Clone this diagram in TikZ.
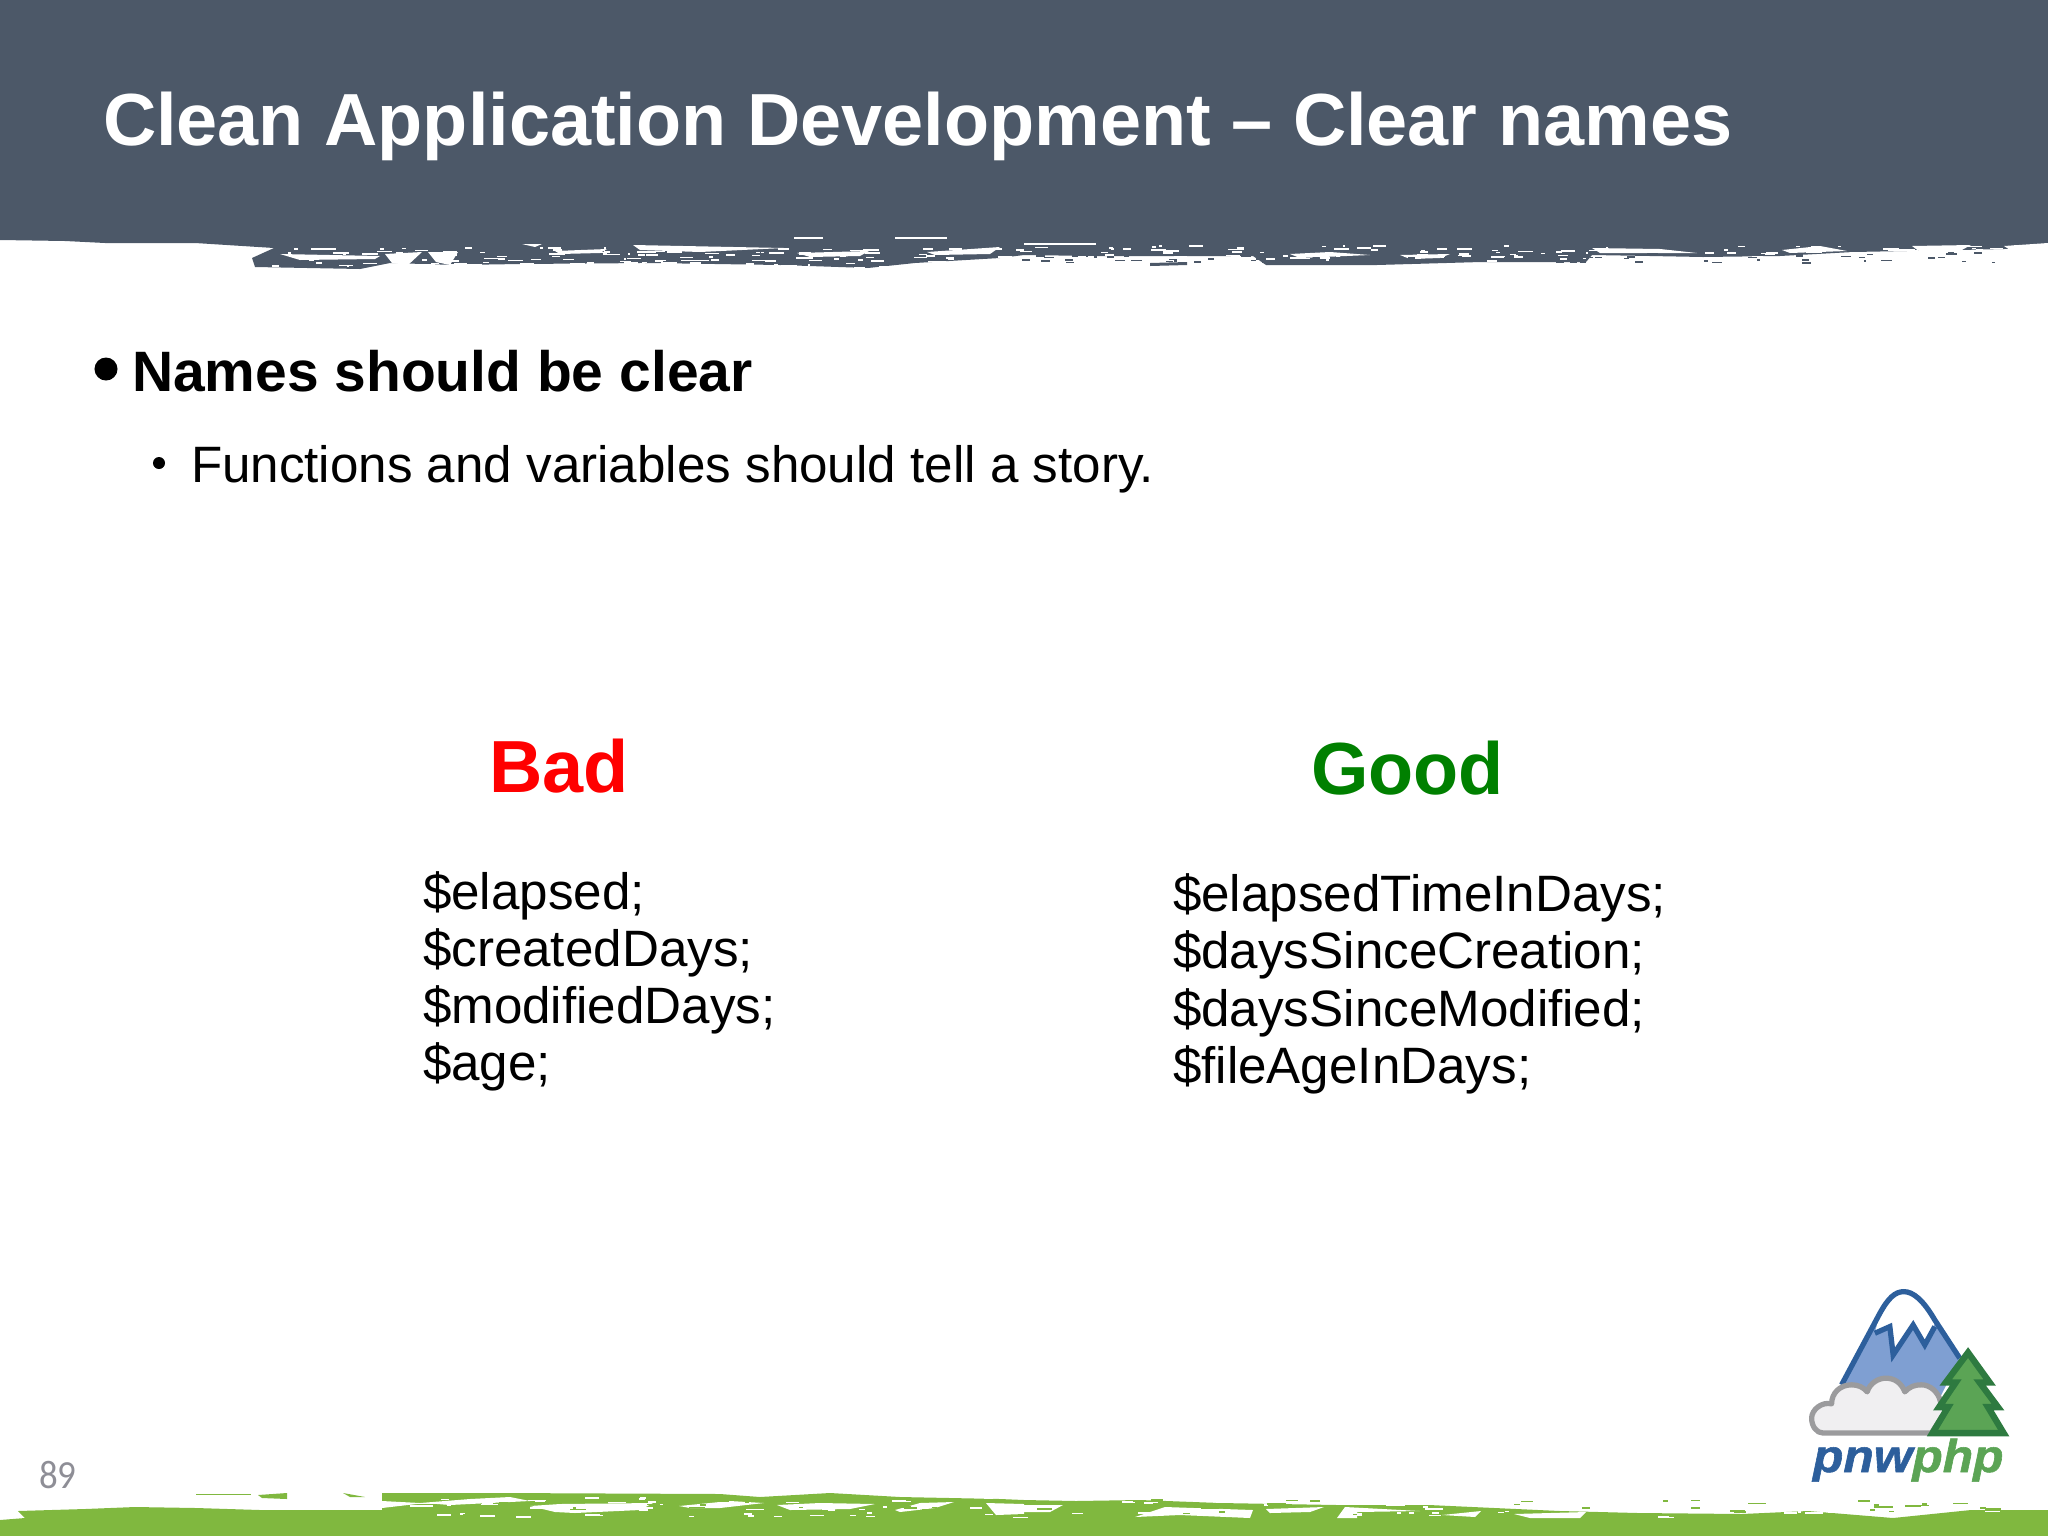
\documentclass[tikz,border=0pt]{standalone}
\usepackage{fontspec}
\setmainfont{Liberation Sans}
\newfontfamily\numfont{Carlito}
\newfontfamily\logoface[UprightFont={* Bold Italic},UprightFeatures={FakeBold=1.2}]{Liberation Sans}
\definecolor{slatebar}{HTML}{4C5868}
\definecolor{grassbar}{HTML}{80B83F}
\definecolor{badred}{HTML}{FF0000}
\definecolor{goodgreen}{HTML}{008000}
\definecolor{pagenum}{HTML}{8E8E96}
\definecolor{logoblue}{HTML}{2D5F9C}
\definecolor{mountfill}{HTML}{7F9FD2}
\definecolor{cloudfill}{HTML}{F0EFF1}
\definecolor{cloudline}{HTML}{9B9B9D}
\definecolor{treefill}{HTML}{5BA455}
\definecolor{treeline}{HTML}{2E7A40}
\newcommand{\pxf}[1]{\fontsize{#1}{#1}\selectfont}
\tikzset{
  txt/.style={anchor=base west,inner sep=0pt,outer sep=0pt},
  titletxt/.style={txt,text=white,font=\pxf{21.0}\bfseries},
  headtxt/.style={txt,text=black,font=\pxf{16.2}\bfseries},
  bodytxt/.style={txt,text=black,font=\pxf{14.55}},
  bigtxt/.style={txt,font=\pxf{21.0}\bfseries},
  dot/.style={circle,fill=black,inner sep=0pt,outer sep=0pt},
  logostroke/.style={line width=1.5pt,line join=miter},
  treestroke/.style={line width=1.8pt,line join=miter}
}
\begin{document}
\begin{tikzpicture}[x=0.01cm,y=-0.01cm]
\useasboundingbox (0,0) rectangle (2048,1536);
% header band
\fill[slatebar] (0,0) -- (2048,0) -- (2048,248) -- (1960,250) -- (1853,252) -- (1780,256) -- (1703,257) -- (1650,256) -- (1592,255) -- (1586,262) -- (1481,262) -- (1377,265) -- (1266,265) -- (1253,256) -- (1160,256) -- (1094,256) -- (1024,255) -- (1000,258) -- (915,263) -- (868,268) -- (780,265) -- (650,263) -- (520,264) -- (457,265) -- (390,263) -- (360,269) -- (255,267) -- (252,258) -- (274,248) -- (195,243) -- (105,243) -- (65,241) -- (0,240) -- cycle;
\fill[white] (385,254) -- (422,252) -- (408,265) -- (392,263) -- cycle;
\fill[white] (428,252) -- (458,252) -- (450,265) -- (436,262) -- cycle;
\fill[white] (280,254) -- (380,256) -- (375,259) -- (300,260) -- cycle;
\fill[white] (555,251) -- (607,249) -- (600,253) -- (560,254) -- cycle;
\fill[white] (633,245) -- (784,248) -- (700,252) -- (640,250) -- cycle;
\fill[white] (797,253) -- (869,251) -- (860,256) -- (810,257) -- cycle;
\fill[white] (927,252) -- (1000,247) -- (990,254) -- (935,255) -- cycle;
\fill[white] (522,244) -- (542,244) -- (535,247) -- cycle;
\fill[white] (794,237) -- (823,237) -- (823,239) -- (794,239) -- cycle;
\fill[white] (895,237) -- (947,237) -- (947,239) -- (895,239) -- cycle;
\fill[white] (1024,243) -- (1096,243) -- (1096,245) -- (1024,245) -- cycle;
\fill[white] (1290,254) -- (1330,252) -- (1370,255) -- (1300,258) -- cycle;
\fill[white] (1400,255) -- (1450,254) -- (1440,258) -- (1410,259) -- cycle;
\fill[white] (1592,248) -- (1660,249) -- (1697,253) -- (1600,253) -- cycle;
\fill[white] (1782,250) -- (1820,246) -- (1847,251) -- (1790,253) -- cycle;
\fill[white] (1912,246) -- (1971,245) -- (1960,251) -- (1920,252) -- cycle;
\fill[white] (2004,246) -- (2048,243) -- (2048,249) -- (2010,250) -- cycle;
\fill[slatebar] (1150,263) -- (1187,262) -- (1187,265) -- (1150,266) -- cycle;
% frayed texture of the header edge
\pgfmathsetseed{4711}
\foreach \k in {1,...,150}{
  \pgfmathsetmacro{\sx}{270+rnd*730}
  \pgfmathsetmacro{\sy}{247+rnd*20}
  \pgfmathsetmacro{\sw}{2+rnd*14}
  \fill[white] (\sx,\sy) rectangle ++(\sw,1.6);
}
\foreach \k in {1,...,150}{
  \pgfmathsetmacro{\sx}{1000+rnd*1048}
  \pgfmathsetmacro{\sy}{245+rnd*16}
  \pgfmathsetmacro{\sw}{2+rnd*14}
  \fill[white] (\sx,\sy) rectangle ++(\sw,1.6);
}
\foreach \k in {1,...,90}{
  \pgfmathsetmacro{\sx}{1000+rnd*1000}
  \pgfmathsetmacro{\sy}{252+rnd*10}
  \pgfmathsetmacro{\sw}{2+rnd*10}
  \fill[slatebar] (\sx,\sy) rectangle ++(\sw,1.6);
}
% footer band
\fill[grassbar] (0,1536) -- (0,1520) -- (25,1518) -- (18,1511) -- (85,1509) -- (135,1507) -- (196,1508) -- (260,1510) -- (382,1510) -- (382,1493) -- (500,1493) -- (720,1494) -- (760,1497) -- (830,1493) -- (900,1497) -- (1000,1499) -- (1024,1500) -- (1076,1501) -- (1140,1500) -- (1220,1503) -- (1337,1505) -- (1429,1505) -- (1560,1511) -- (1638,1513) -- (1742,1514) -- (1808,1511) -- (1893,1518) -- (1971,1510) -- (2048,1510) -- (2048,1536) -- cycle;
\fill[grassbar] (258,1495) -- (287,1493) -- (287,1499) -- (262,1498) -- cycle;
\fill[grassbar] (196,1493.5) -- (251,1493.5) -- (251,1495) -- (196,1495) -- cycle;
\fill[grassbar] (343,1493) -- (365,1497) -- (350,1497) -- cycle;
\fill[white] (382,1501) -- (420,1503) -- (470,1499) -- (510,1497) -- (530,1501) -- (450,1505) -- (425,1503) -- (382,1508) -- cycle;
\fill[white] (530,1506) -- (560,1504) -- (653,1503) -- (640,1510) -- (575,1513) -- (555,1512) -- cycle;
\fill[white] (679,1506) -- (730,1501) -- (764,1503) -- (720,1508) -- (690,1508) -- cycle;
\fill[white] (777,1505) -- (820,1503) -- (875,1504) -- (850,1509) -- (790,1510) -- cycle;
\fill[white] (895,1510) -- (920,1503) -- (954,1502) -- (935,1508) -- (900,1512) -- cycle;
\fill[white] (986,1503) -- (1024,1504) -- (1024,1514) -- (996,1515) -- cycle;
\fill[white] (1024,1505) -- (1063,1505) -- (1050,1512) -- (1024,1512) -- cycle;
\fill[white] (1135,1517) -- (1165,1507) -- (1253,1510) -- (1250,1518) -- (1180,1515) -- cycle;
\fill[white] (1266,1509) -- (1324,1507) -- (1310,1512) -- (1270,1513) -- cycle;
\fill[white] (1337,1518) -- (1345,1507) -- (1420,1511) -- (1357,1512) -- (1357,1518) -- cycle;
\fill[white] (1442,1515) -- (1481,1511) -- (1475,1517) -- cycle;
\fill[white] (1514,1514) -- (1586,1512) -- (1580,1518) -- (1530,1518) -- cycle;
% frayed texture of the footer edge
\foreach \k in {1,...,110}{
  \pgfmathsetmacro{\sx}{400+rnd*1600}
  \pgfmathsetmacro{\sy}{1497+rnd*20}
  \pgfmathsetmacro{\sw}{3+rnd*16}
  \fill[white] (\sx,\sy) rectangle ++(\sw,1.6);
}
\foreach \k in {1,...,70}{
  \pgfmathsetmacro{\sx}{400+rnd*1600}
  \pgfmathsetmacro{\sy}{1499+rnd*16}
  \pgfmathsetmacro{\sw}{3+rnd*16}
  \fill[grassbar] (\sx,\sy) rectangle ++(\sw,1.6);
}
% texts
\node[titletxt] (title) at (103,145) {Clean Application Development – Clear names};
\node[dot,minimum size=23pt*0.2845] (b1) at (106,369) {};
\node[headtxt] (head) at (132,391) {Names should be clear};
\node[dot,minimum size=12pt*0.2845] (b2) at (159,463) {};
\node[bodytxt] (sub) at (191,482.5) {Functions and variables should tell a story.};
\node[bigtxt,text=badred] (bad) at (489,792) {Bad};
\node[bigtxt,text=goodgreen] (good) at (1311,794) {Good};
\node[bodytxt] (l1) at (423,909) {\$elapsed;};
\node[bodytxt] (l2) at (423,966) {\$createdDays;};
\node[bodytxt] (l3) at (423,1023) {\$modifiedDays;};
\node[bodytxt] (l4) at (423,1080.5) {\$age;};
\node[bodytxt] (r1) at (1173,911) {\$elapsedTimeInDays;};
\node[bodytxt] (r2) at (1173,968.5) {\$daysSinceCreation;};
\node[bodytxt] (r3) at (1173,1026) {\$daysSinceModified;};
\node[bodytxt] (r4) at (1173,1083) {\$fileAgeInDays;};
\node[txt,text=pagenum,font=\numfont\pxf{10.5},yscale=1.08,transform shape] (page) at (39,1488) {89};
% logo
\begin{scope}[shift={(1780,1270)},x=0.003333cm,y=-0.003333cm]
\fill[mountfill] (185,345) -- (300,130) .. controls (325,85) and (345,65) .. (372,65) .. controls (400,65) and (430,90) .. (465,150) -- (540,265) -- (480,385) -- (185,385) -- cycle;
\fill[white] (285,190) -- (300,130) .. controls (325,85) and (345,65) .. (372,65) .. controls (400,65) and (430,90) .. (465,160) -- (435,225) -- (400,165) -- (340,255) -- (330,170) -- cycle;
\draw[logostroke,logoblue] (285,190) -- (330,170) -- (340,255) -- (400,165) -- (435,225) -- (465,170);
\draw[logostroke,logoblue] (185,345) -- (300,130) .. controls (325,85) and (345,65) .. (372,65) .. controls (400,65) and (430,90) .. (465,150) -- (540,265);
\draw[logostroke,cloudline,fill=cloudfill,line join=round] (130,490) .. controls (110,490) and (95,470) .. (95,445) .. controls (95,420) and (125,395) .. (155,402) .. controls (155,370) and (180,345) .. (215,345) .. controls (235,345) and (250,352) .. (262,366) .. controls (270,340) and (295,325) .. (318,325) .. controls (345,325) and (365,340) .. (375,366) .. controls (390,350) and (405,345) .. (425,345) .. controls (450,345) and (475,365) .. (482,395) -- (500,420) -- (455,490) -- cycle;
\draw[treestroke,treeline,fill=treefill] (565,248) -- (630,338) -- (600,338) -- (655,412) -- (625,412) -- (672,490) -- (458,490) -- (505,412) -- (478,412) -- (528,338) -- (498,338) -- cycle;
\end{scope}
\node[txt,font=\logoface\pxf{15.6},xscale=0.906,yscale=0.84,transform shape] (logotext) at (1813,1472) {\textcolor{logoblue}{pnw}\textcolor{treefill}{php}};
\end{tikzpicture}
\end{document}
